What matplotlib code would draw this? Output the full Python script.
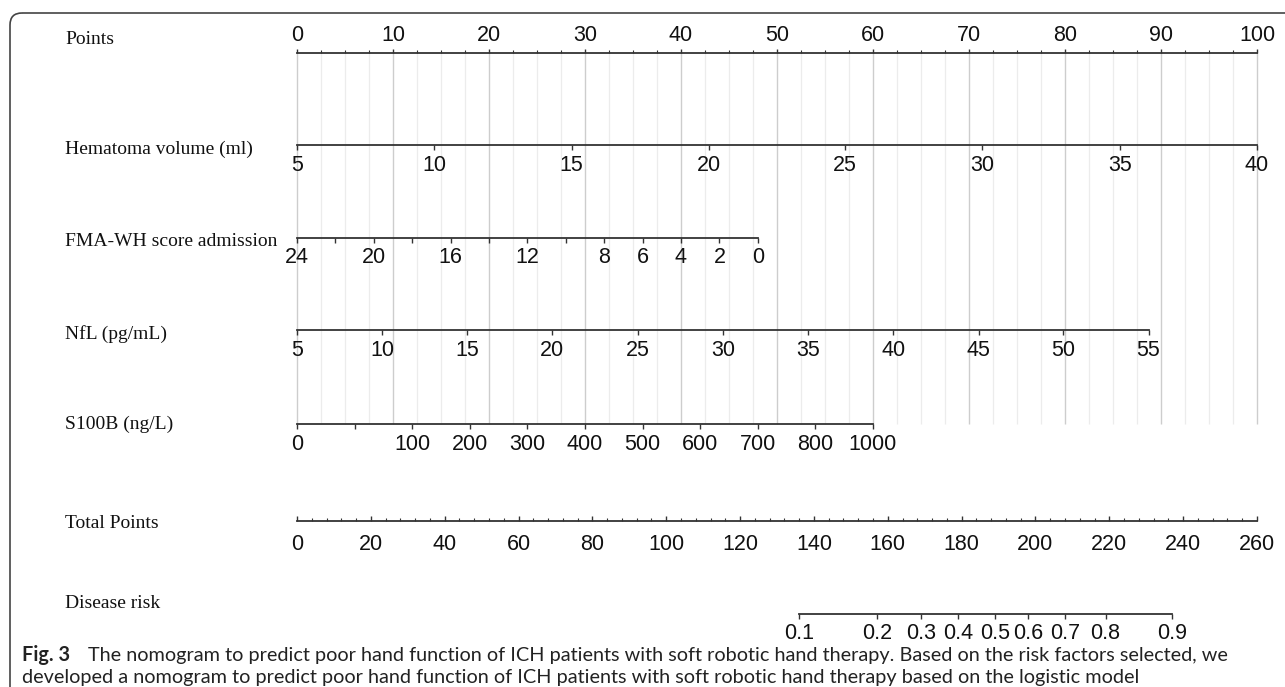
import matplotlib.pyplot as plt
from matplotlib.patches import FancyBboxPatch

# points scale
points_major = [0, 10, 20, 30, 40, 50, 60, 70, 80, 90, 100]
points_minor = [2.5, 5, 7.5, 12.5, 15, 17.5, 22.5, 25, 27.5, 32.5, 35, 37.5, 42.5, 45, 47.5,
                52.5, 55, 57.5, 62.5, 65, 67.5, 72.5, 75, 77.5, 82.5, 85, 87.5, 92.5, 95, 97.5]

# predictors: tick labels and their points
hema_labels = ['5', '10', '15', '20', '25', '30', '35', '40']
hema_pts = [0, 14.3, 28.6, 42.9, 57.1, 71.4, 85.7, 100]

fma_labels = ['24', '', '20', '', '16', '', '12', '', '8', '6', '4', '2', '0']
fma_pts = [0, 4, 8, 12, 16, 20, 24, 28, 32, 36, 40, 44, 48]

nfl_labels = ['5', '10', '15', '20', '25', '30', '35', '40', '45', '50', '55']
nfl_pts = [0, 8.9, 17.7, 26.6, 35.5, 44.4, 53.2, 62.1, 71.0, 79.8, 88.7]

s100b_labels = ['0', '', '100', '200', '300', '400', '500', '600', '700', '800', '1000']
s100b_pts = [0, 6, 12, 18, 24, 30, 36, 42, 48, 54, 60]

total_major = [0, 20, 40, 60, 80, 100, 120, 140, 160, 180, 200, 220, 240, 260]
total_max = 260

risk_labels = ['0.1', '0.2', '0.3', '0.4', '0.5', '0.6', '0.7', '0.8', '0.9']
risk_total = [136, 157, 169, 179, 189, 198, 208, 219, 237]

row_names = ['Points', 'Hematoma volume (ml)', 'FMA-WH score admission', 'NfL (pg/mL)',
             'S100B (ng/L)', 'Total Points', 'Disease risk']

# layout (pixels from top)
line_y = [53, 145, 238, 330, 424, 521, 614]
name_y = [40, 149, 241, 334, 424, 524, 604]

W, H = 1285, 687
fig = plt.figure(figsize=(W / 100, H / 100), dpi=100)
frame = fig.add_axes([0, 0, 1, 1])
frame.set_xlim(0, W)
frame.set_ylim(H, 0)
frame.axis('off')
ax = fig.add_axes([0, 0, 1, 1])
ax.set_xlim(-297 / 9.6, (W - 297) / 9.6)
ax.set_ylim(H, 0)
ax.axis('off')

# border
frame.add_patch(FancyBboxPatch((10, 13), 1300, 700, boxstyle='round,pad=0,rounding_size=12',
                               fc='none', ec='#444444', lw=1.2))

tick_font = dict(family='Liberation Sans', fontsize=15.5, color='#111111')
serif = dict(family='Liberation Serif', fontsize=14, color='#111111')

# grid
ax.vlines(points_minor, line_y[0], line_y[4], color='#ececec', lw=0.9, zorder=0)
ax.vlines(points_major, line_y[0], line_y[4], color='#cdcdcd', lw=1.0, zorder=0)

lc = '#333333'

# Points axis
ax.plot([0, 100], [line_y[0]] * 2, color=lc, lw=1.3)
ax.vlines(points_major, line_y[0] - 4, line_y[0], color=lc, lw=1)
ax.vlines(points_minor, line_y[0] - 3, line_y[0], color=lc, lw=0.8)
for p in points_major:
    ax.text(p, line_y[0] - 7, str(p), ha='center', va='bottom', **tick_font)


def draw_row(y, pts, labels, gap=10):
    ax.plot([pts[0], pts[-1]], [y, y], color=lc, lw=1.3)
    ax.vlines(pts, y, y + 5, color=lc, lw=1)
    for p, lab in zip(pts, labels):
        ax.text(p, y + gap, lab, ha='center', va='top', **tick_font)


draw_row(line_y[1], hema_pts, hema_labels)
draw_row(line_y[2], fma_pts, fma_labels, gap=9)
draw_row(line_y[3], nfl_pts, nfl_labels)
draw_row(line_y[4], s100b_pts, s100b_labels)

# Total points axis
tot_pts = [t * 100 / total_max for t in total_major]
tot_minor = [t * 100 / total_max for t in range(0, total_max + 1, 4) if t % 20]
ax.plot([0, 100], [line_y[5]] * 2, color=lc, lw=1.3)
ax.vlines(tot_pts, line_y[5] - 5, line_y[5], color=lc, lw=1)
ax.vlines(tot_minor, line_y[5] - 3, line_y[5], color=lc, lw=0.8)
for p, t in zip(tot_pts, total_major):
    ax.text(p, line_y[5] + 13, str(t), ha='center', va='top', **tick_font)

# Disease risk axis
risk_pts = [t * 100 / total_max for t in risk_total]
draw_row(line_y[6], risk_pts, risk_labels, gap=9)

# row names
for name, y in zip(row_names, name_y):
    frame.text(65, y, name, ha='left', va='center', **serif)

# caption
cap_font = dict(family='Lato', fontsize=14.3, color='#222222')
frame.text(22, 655, 'Fig. 3', ha='left', va='center', fontweight='bold', **cap_font)
frame.text(88, 655, 'The nomogram to predict poor hand function of ICH patients with soft robotic hand therapy. '
           'Based on the risk factors selected, we', ha='left', va='center', **cap_font)
frame.text(22, 678, 'developed a nomogram to predict poor hand function of ICH patients with soft robotic hand '
           'therapy based on the logistic model', ha='left', va='center', **cap_font)

fig.savefig('out.png', dpi=100)
